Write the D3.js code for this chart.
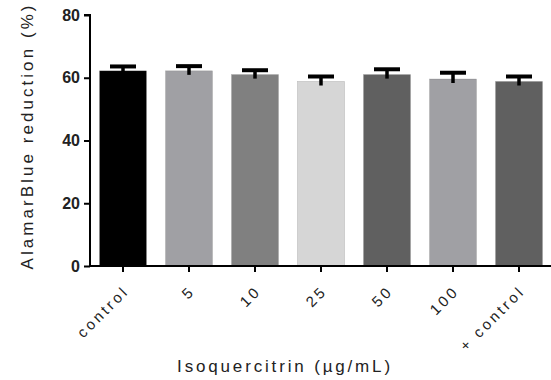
<!DOCTYPE html>
<html>
<head>
<meta charset="utf-8">
<script src="https://cdn.jsdelivr.net/npm/d3@7"></script>
<style>
  body { margin: 0; background: #fff; }
  text { font-family: "Liberation Sans", Arial, sans-serif; fill: #222; }
</style>
</head>
<body>
<div class="chart"></div>
<script>
var svgWidth = 551;
var svgHeight = 380;

var margin = { top: 15, right: 0, bottom: 113, left: 90 };

var width = svgWidth - margin.left - margin.right;
var height = svgHeight - margin.top - margin.bottom;

// Data
var categories = ["control", "5", "10", "25", "50", "100", "+ control"];
var means = [62.2, 62.2, 61.0, 58.8, 61.0, 59.6, 58.8];
var errors = [1.4, 1.5, 1.4, 1.6, 1.7, 2.0, 1.6];
var fills = ["#000000", "#a0a0a4", "#808080", "#d6d6d6", "#606060", "#a0a0a4", "#606060"];
var yTicks = [0, 20, 40, 60, 80];

var svg = d3.select(".chart")
  .append("svg")
  .attr("width", svgWidth)
  .attr("height", svgHeight);

var chartGroup = svg.append("g")
  .attr("transform", `translate(${margin.left}, ${margin.top})`);

// Scales
var xScale = d3.scaleBand()
  .domain(categories)
  .range([0, 462])
  .paddingInner(0.29)
  .paddingOuter(0.145);

var yScale = d3.scaleLinear()
  .domain([0, 80])
  .range([height - 1, 0]);

// Bars
chartGroup.selectAll(".bar")
  .data(categories)
  .enter()
  .append("rect")
  .attr("class", "bar")
  .attr("x", d => xScale(d))
  .attr("y", (d, i) => yScale(means[i]))
  .attr("width", xScale.bandwidth())
  .attr("height", (d, i) => yScale(0) - yScale(means[i]))
  .attr("fill", (d, i) => fills[i])
  .attr("stroke", "#555")
  .attr("stroke-width", 0.5)
  .attr("stroke-opacity", 0.4);

// Error bars (upper only)
var errGroup = chartGroup.selectAll(".err")
  .data(categories)
  .enter()
  .append("g")
  .attr("class", "err");

errGroup.append("line")
  .attr("x1", d => xScale(d) + xScale.bandwidth() / 2)
  .attr("x2", d => xScale(d) + xScale.bandwidth() / 2)
  .attr("y1", (d, i) => yScale(means[i]) + 4)
  .attr("y2", (d, i) => yScale(means[i] + errors[i]))
  .attr("stroke", "#000")
  .attr("stroke-width", 3.5);

errGroup.append("line")
  .attr("x1", d => xScale(d) + xScale.bandwidth() / 2 - 13)
  .attr("x2", d => xScale(d) + xScale.bandwidth() / 2 + 13)
  .attr("y1", (d, i) => yScale(means[i] + errors[i]))
  .attr("y2", (d, i) => yScale(means[i] + errors[i]))
  .attr("stroke", "#000")
  .attr("stroke-width", 4);

// Axes
var leftAxis = d3.axisLeft(yScale)
  .tickValues(yTicks)
  .tickSize(6)
  .tickPadding(4);

var bottomAxis = d3.axisBottom(xScale)
  .tickSize(6)
  .tickPadding(4);

var yAxisG = chartGroup.append("g")
  .call(leftAxis);
yAxisG.select(".domain")
  .attr("d", `M-6,${yScale(80)}H0V${yScale(0)}`);

var xAxisG = chartGroup.append("g")
  .attr("transform", `translate(0, ${yScale(0)})`)
  .call(bottomAxis);
xAxisG.select(".domain")
  .attr("d", "M0,0H462");

chartGroup.selectAll(".domain, .tick line")
  .attr("stroke", "#000")
  .attr("stroke-width", 2);

yAxisG.selectAll("text")
  .style("font-size", "16px")
  .style("font-weight", "bold")
  .attr("fill", "#333");

xAxisG.selectAll("text")
  .style("font-size", "15px")
  .style("letter-spacing", "3px")
  .attr("fill", "#333")
  .style("text-anchor", "end")
  .attr("x", 0)
  .attr("y", 0)
  .attr("dy", 0)
  .attr("transform", "translate(7, 26) rotate(-45)");

// fit a text's length by letter spacing
function fitLength(sel, target) {
  var n = sel.text().length;
  var w = sel.node().getComputedTextLength();
  sel.style("letter-spacing", ((target - w) / (n - 1)) + "px");
}

// Labels
var yLabel = svg.append("text")
  .attr("transform", `translate(33, 136) rotate(-90)`)
  .style("text-anchor", "middle")
  .style("font-size", "17px")
  .text("AlamarBlue reduction (%)");
fitLength(yLabel, 264);

var xLabel = svg.append("text")
  .attr("x", 285)
  .attr("y", 372)
  .style("text-anchor", "middle")
  .style("font-size", "17px")
  .text("Isoquercitrin (µg/mL)");
fitLength(xLabel, 213);
</script>
</body>
</html>
